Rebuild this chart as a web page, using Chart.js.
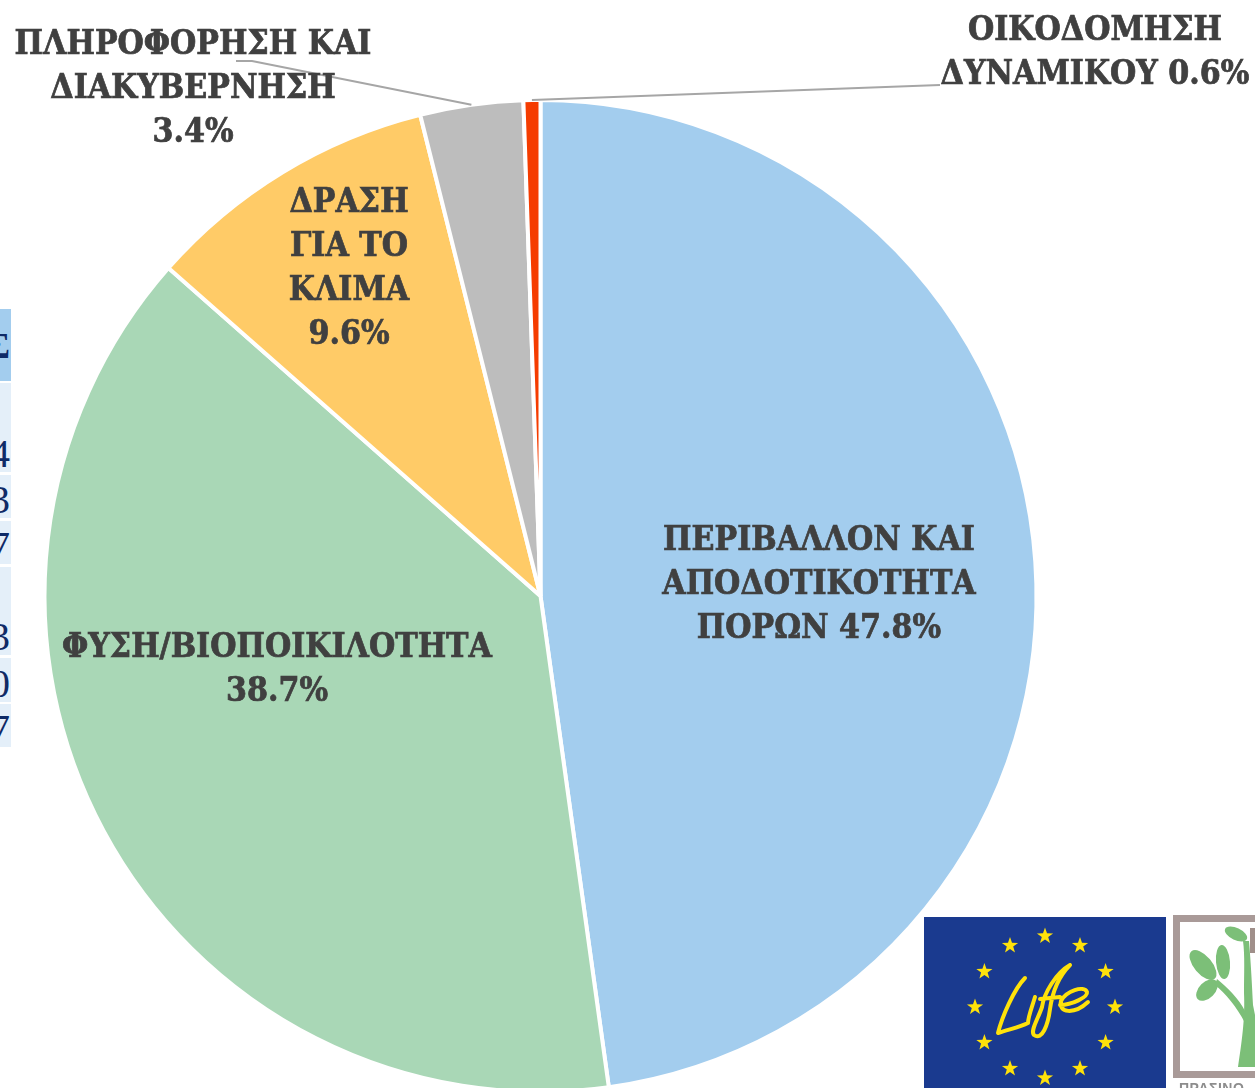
<!DOCTYPE html>
<html lang="el">
<head>
    <meta charset="UTF-8">
    <title>Κατανομή έργων LIFE</title>
    <script src="https://cdn.jsdelivr.net/npm/chart.js"></script>
    <style>
        html, body { margin: 0; padding: 0; background: #fff; overflow: hidden; }
        #wrap { position: relative; width: 1255px; height: 1088px; overflow: hidden; }
        #chartBox { position: absolute; left: 0; top: 0; width: 1255px; height: 1100px; }
        .cell { position: absolute; left: 0; width: 11px; background: #e4eff9; color: #0f2a66;
                font: 40px/40px "Liberation Serif", serif; overflow: hidden; white-space: nowrap; }
        .cell span { position: absolute; right: 1px; bottom: -2px; }
        svg { position: absolute; }
    </style>
</head>
<body>
<div id="wrap">
    <div class="cell" style="top:309px;height:72px;background:#a3cdee"><span style="bottom:15px;font-weight:bold;font-size:36px">Σ</span></div>
    <div class="cell" style="top:383px;height:89px"><span>4</span></div>
    <div class="cell" style="top:475px;height:43px"><span>3</span></div>
    <div class="cell" style="top:521px;height:43px"><span>7</span></div>
    <div class="cell" style="top:567px;height:88px"><span>3</span></div>
    <div class="cell" style="top:658px;height:44px"><span>0</span></div>
    <div class="cell" style="top:704px;height:43px"><span>7</span></div>

    <div id="chartBox"><canvas id="pie"></canvas></div>

    <svg style="left:924px;top:917px" width="242" height="171" viewBox="0 0 242 171">
        <rect width="242" height="171" fill="#1a3a8f"/>
        <g id="stars" fill="#ffe20a"></g>
        <path d="M101 61 C90 72 78 100 74 116 C86 112 96 110 104 106 M111 80 C108 90 104 100 104 106 M146 48 C132 56 120 76 118 90 C114 102 106 114 110 118 C118 124 124 108 126 92 C128 78 134 60 146 48 M116 82 L136 80 M136 88 C148 88 164 80 163 75 C160 68 142 74 137 84 C134 96 150 98 164 85"
              fill="none" stroke="#ffe20a" stroke-width="4" stroke-linecap="round" stroke-linejoin="round"/>
    </svg>
    <svg style="left:1173px;top:915px" width="82" height="173" viewBox="0 0 82 173">
        <rect x="3.5" y="3.5" width="90" height="156" fill="#fff" stroke="#a99a98" stroke-width="7"/>
        <path d="M77 13 H82 V38 H77 Z" fill="#a08f8a"/>
        <path d="M65 152 C70 120 72 100 71 78 C71 60 72 40 70 26 L76 26 C78 50 79 70 80 90 L82 100 V152 Z" fill="#7cbf78"/>
        <ellipse cx="63" cy="19" rx="12" ry="6" fill="#7cbf78" transform="rotate(25 63 19)"/>
        <ellipse cx="30" cy="50" rx="18" ry="9" fill="#7cbf78" transform="rotate(50 30 50)"/>
        <ellipse cx="50" cy="47" rx="7" ry="17" fill="#7cbf78" transform="rotate(-5 50 47)"/>
        <ellipse cx="34" cy="75" rx="13" ry="8" fill="#7cbf78" transform="rotate(-45 34 75)"/>
        <path d="M44 64 C54 72 66 84 72 96 L72 108 C64 92 52 78 42 70 Z" fill="#7cbf78"/>
        <text x="6" y="178" font-family="Liberation Sans" font-weight="bold" font-size="14" fill="#8d8d8d" letter-spacing="0.5">ΠΡΑΣΙΝΟ</text>
    </svg>
</div>

<script>
    const categories = ['ΠΕΡΙΒΑΛΛΟΝ ΚΑΙ ΑΠΟΔΟΤΙΚΟΤΗΤΑ ΠΟΡΩΝ', 'ΦΥΣΗ/ΒΙΟΠΟΙΚΙΛΟΤΗΤΑ', 'ΔΡΑΣΗ ΓΙΑ ΤΟ ΚΛΙΜΑ', 'ΠΛΗΡΟΦΟΡΗΣΗ ΚΑΙ ΔΙΑΚΥΒΕΡΝΗΣΗ', 'ΟΙΚΟΔΟΜΗΣΗ ΔΥΝΑΜΙΚΟΥ'];
    // last two, the printed 3.4 and 0.6 are rounded
    const shares = [47.8, 38.7, 9.6, 3.35, 0.55];
    const sliceColors = ['#a3cdee', '#a9d7b6', '#ffcb67', '#bdbdbd', '#f53c00'];

    // line breaks and label placement, same order as categories
    const labelLines = [
        ['ΠΕΡΙΒΑΛΛΟΝ ΚΑΙ', 'ΑΠΟΔΟΤΙΚΟΤΗΤΑ', 'ΠΟΡΩΝ 47.8%'],
        ['ΦΥΣΗ/ΒΙΟΠΟΙΚΙΛΟΤΗΤΑ', '38.7%'],
        ['ΔΡΑΣΗ', 'ΓΙΑ ΤΟ', 'ΚΛΙΜΑ', '9.6%'],
        ['ΠΛΗΡΟΦΟΡΗΣΗ ΚΑΙ', 'ΔΙΑΚΥΒΕΡΝΗΣΗ', '3.4%'],
        ['ΟΙΚΟΔΟΜΗΣΗ', 'ΔΥΝΑΜΙΚΟΥ 0.6%']
    ];
    const labelCenters = [[819, 585], [277, 670], [349, 269], [193, 89], [1095, 53]];
    const leaders = { 3: [[236, 61], [252, 61]], 4: [[940, 85]] };

    const pieLabels = {
        id: 'pieLabels',
        afterDatasetsDraw(chart) {
            const c = chart.ctx;
            const arcs = chart.getDatasetMeta(0).data;
            c.save();
            // leader lines start on the rim of the slice
            c.strokeStyle = '#a6a6a6';
            c.lineWidth = 2;
            Object.keys(leaders).forEach(i => {
                const a = arcs[i];
                const mid = (a.startAngle + a.endAngle) / 2;
                const pts = leaders[i];
                c.beginPath();
                c.moveTo(a.x + Math.cos(mid) * a.outerRadius, a.y + Math.sin(mid) * a.outerRadius);
                for (let k = pts.length - 1; k >= 0; k--) c.lineTo(pts[k][0], pts[k][1]);
                c.stroke();
            });
            c.fillStyle = '#404040';
            c.strokeStyle = '#404040';
            c.lineWidth = 0.7;
            c.font = 'bold condensed 33.5px "DejaVu Serif", serif';
            c.textAlign = 'center';
            c.textBaseline = 'middle';
            labelLines.forEach((lines, i) => {
                const [x, y] = labelCenters[i];
                lines.forEach((t, k) => {
                    const ly = y + (k - (lines.length - 1) / 2) * 44;
                    c.fillText(t, x, ly);
                    c.strokeText(t, x, ly);
                });
            });
            c.restore();
        }
    };

    new Chart(document.getElementById('pie'), {
        type: 'pie',
        data: {
            labels: categories,
            datasets: [{
                data: shares,
                backgroundColor: sliceColors,
                borderColor: '#ffffff',
                borderWidth: 4
            }]
        },
        options: {
            responsive: true,
            maintainAspectRatio: false,
            animation: false,
            layout: { padding: { left: 42, top: 98, right: 216, bottom: 6 } },
            plugins: { legend: { display: false }, tooltip: { enabled: false } }
        },
        plugins: [pieLabels]
    });

    // EU flag stars
    const starGroup = document.getElementById('stars');
    for (let i = 0; i < 12; i++) {
        const a = i * Math.PI / 6;
        const cx = 121 + Math.sin(a) * 70, cy = 90 - Math.cos(a) * 71;
        let d = '';
        for (let k = 0; k < 10; k++) {
            const r = k % 2 ? 3.4 : 8.5, t = k * Math.PI / 5;
            d += (k ? 'L' : 'M') + (cx + Math.sin(t) * r).toFixed(1) + ' ' + (cy - Math.cos(t) * r).toFixed(1);
        }
        const p = document.createElementNS('http://www.w3.org/2000/svg', 'path');
        p.setAttribute('d', d + 'Z');
        starGroup.appendChild(p);
    }
</script>
</body>
</html>
